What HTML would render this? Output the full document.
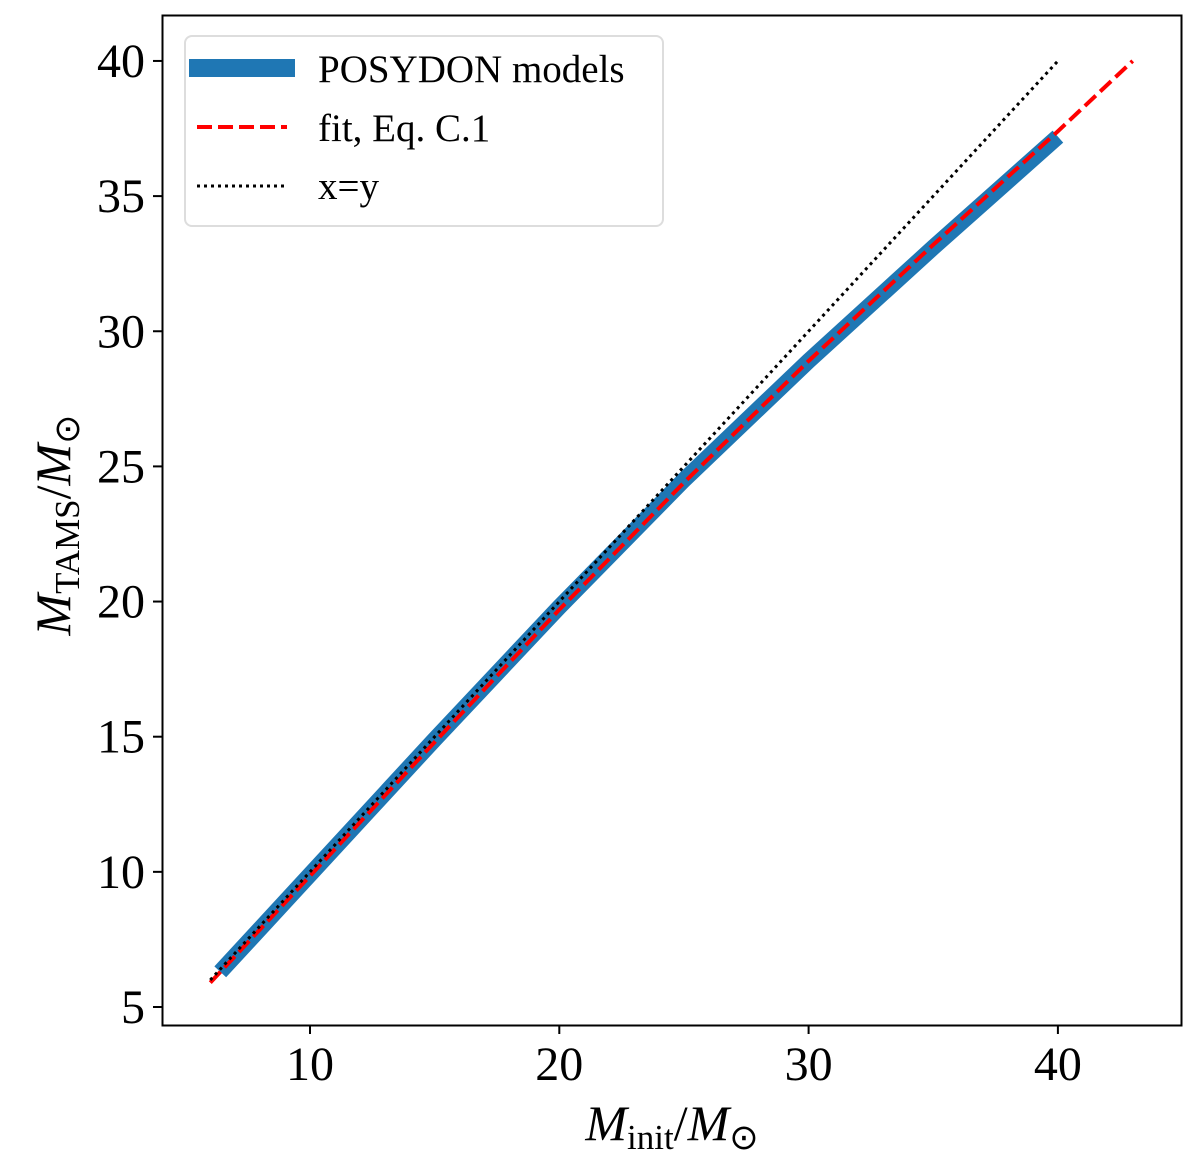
<!DOCTYPE html>
<html><head><meta charset="utf-8"><style>
body{margin:0;background:#fff;}
svg text{font-family:"Liberation Serif",serif;fill:#000;}
</style></head><body>
<svg id="chart" width="1200" height="1170" xmlns="http://www.w3.org/2000/svg">
<rect x="0" y="0" width="1200" height="1170" fill="#fff"/>
<g id="marks"></g>
<rect x="162.5" y="15.5" width="1019" height="1010" fill="none" stroke="#000" stroke-width="2"/>
<g id="xticks"></g><g id="yticks"></g>
<text x="672" y="1140" font-size="50" text-anchor="middle"><tspan font-style="italic">M</tspan><tspan font-size="35" dy="9">init</tspan><tspan dy="-9">/</tspan><tspan font-style="italic">M</tspan><tspan font-size="35" dy="9">⊙</tspan></text>
<text transform="translate(70,525) rotate(-90)" font-size="50" text-anchor="middle"><tspan font-style="italic">M</tspan><tspan font-size="35" dy="9">TAMS</tspan><tspan dy="-9">/</tspan><tspan font-style="italic">M</tspan><tspan font-size="35" dy="9">⊙</tspan></text>
<g>
<rect x="185" y="36" width="478" height="190" rx="7" fill="#fff" stroke="#ddd" stroke-width="2"/>
<line x1="189" y1="68" x2="295" y2="68" stroke="#1f77b4" stroke-width="18"/>
<text x="318" y="82" font-size="39">POSYDON models</text>
<line x1="197" y1="127" x2="287" y2="127" stroke="#f00" stroke-width="4" stroke-dasharray="15,6"/>
<text x="318" y="141" font-size="39">fit, Eq. C.1</text>
<line x1="197" y1="186" x2="287" y2="186" stroke="#000" stroke-width="3" stroke-dasharray="3,4"/>
<text x="318" y="199" font-size="39">x=y</text>
</g>
</svg>
<script>
const xTicks=[10,20,30,40];
const yTicks=[5,10,15,20,25,30,35,40];
const posX=[6.4,10,15,20,25,30,35,40];
const posY=[6.3,9.9,14.9,19.8,24.5,28.9,33.1,37.2];
const fitX=[6,10,15,20,25,30,35,40,43];
const fitY=[5.9,9.85,14.8,19.7,24.4,28.9,33.2,37.4,40.0];
const idX=[6,40];
const idY=[6,40];
const NS="http://www.w3.org/2000/svg";
function sx(v){return 310+(v-10)*24.93;}
function sy(v){return 1007-(v-5)*27.03;}
function mk(t,a,p){const e=document.createElementNS(NS,t);for(const k in a)e.setAttribute(k,a[k]);p.appendChild(e);return e;}
const marks=document.getElementById('marks');
function pts(X,Y){return X.map((x,i)=>sx(x)+','+sy(Y[i])).join(' ');}
const l1=mk('polyline',{points:pts(posX,posY),fill:'none',stroke:'#1f77b4','stroke-width':16},marks);


const l2=mk('polyline',{points:pts(fitX,fitY),fill:'none',stroke:'#f00','stroke-width':4,'stroke-dasharray':'15,6'},marks);


const l3=mk('polyline',{points:pts(idX,idY),fill:'none',stroke:'#000','stroke-width':3,'stroke-dasharray':'3,4'},marks);


const xt=document.getElementById('xticks');
xTicks.forEach(v=>{
 const l=mk('line',{x1:sx(v),x2:sx(v),y1:1025,y2:1034,stroke:'#000','stroke-width':2},xt);
 
 
 const t=mk('text',{x:sx(v),y:1080,'font-size':48,'text-anchor':'middle'},xt);
 
 
 t.textContent=v;
});
const yt=document.getElementById('yticks');
yTicks.forEach(v=>{
 const l=mk('line',{x1:153,x2:162,y1:sy(v),y2:sy(v),stroke:'#000','stroke-width':2},yt);
 
 
 const t=mk('text',{x:145,y:sy(v)+16,'font-size':48,'text-anchor':'end'},yt);
 
 
 t.textContent=v;
});
</script>
</body></html>
